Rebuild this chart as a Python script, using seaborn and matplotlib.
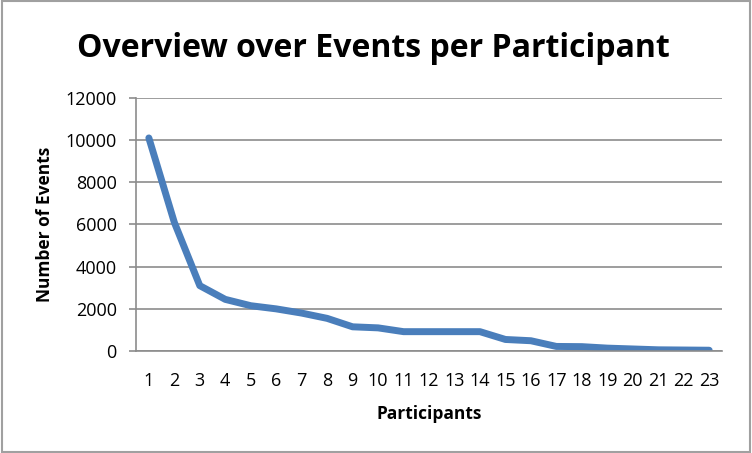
import numpy as np
import pandas as pd
import matplotlib.pyplot as plt
import seaborn as sns
from matplotlib.patches import Rectangle

participants = list(range(1, 24))
events = [10100, 6100, 3100, 2450, 2150, 2000, 1800, 1550, 1150, 1100,
          920, 920, 920, 920, 550, 490, 220, 210, 140, 100, 60, 50, 40]
y_ticks = [0, 2000, 4000, 6000, 8000, 10000, 12000]

df = pd.DataFrame({"Participants": participants, "Events": events})

sns.set_style("white")
plt.rcParams['font.family'] = ['Open Sans', 'DejaVu Sans']
plt.rcParams['text.color'] = 'black'
plt.rcParams['axes.labelcolor'] = 'black'
plt.rcParams['xtick.color'] = 'black'
plt.rcParams['ytick.color'] = 'black'

fig = plt.figure(figsize=(7.52, 4.53), dpi=100)
ax = fig.add_axes([0.181, 0.225, 0.779, 0.559])

sns.lineplot(data=df, x="Participants", y="Events", ax=ax,
             color="#4a7ebb", linewidth=5, solid_capstyle="round",
             solid_joinstyle="round")

ax.set_xlim(0.5, 23.5)
ax.set_ylim(0, 12000)
ax.set_yticks(y_ticks)
ax.set_yticklabels([str(v) for v in y_ticks], fontsize=13)
ax.yaxis.grid(True, color="#8c8c8c", linewidth=1.2)
ax.set_axisbelow(True)

# labels at category centres, tick marks at category boundaries
ax.set_xticks(participants)
ax.set_xticklabels([str(p) for p in participants], fontsize=13)
ax.set_xticks(np.arange(0.5, 24, 1), minor=True)
ax.tick_params(axis="x", which="major", length=0, pad=15, labelcolor="black")
ax.tick_params(axis="x", which="minor", length=5, color="#8c8c8c", width=1.2)
ax.tick_params(axis="y", length=5, color="#8c8c8c", width=1.2, pad=9, left=True,
               labelcolor="black")

for side in ["top", "right"]:
    ax.spines[side].set_visible(False)
for side in ["left", "bottom"]:
    ax.spines[side].set_color("#8c8c8c")
    ax.spines[side].set_linewidth(1.2)

ax.set_xlabel("Participants", fontsize=12.5, fontweight="bold", labelpad=11)
ax.set_ylabel("Number of Events", fontsize=12.5, fontweight="bold", labelpad=8)

fig.text(0.497, 0.893, "Overview over Events per Participant",
         ha="center", va="center", fontsize=23, fontweight="bold", color="black")

fig.patches.append(Rectangle((0.002, 0.003), 0.996, 0.994, transform=fig.transFigure,
                             fill=False, edgecolor="#a0a0a0", linewidth=1.5))

fig.savefig("out.png", dpi=100)
